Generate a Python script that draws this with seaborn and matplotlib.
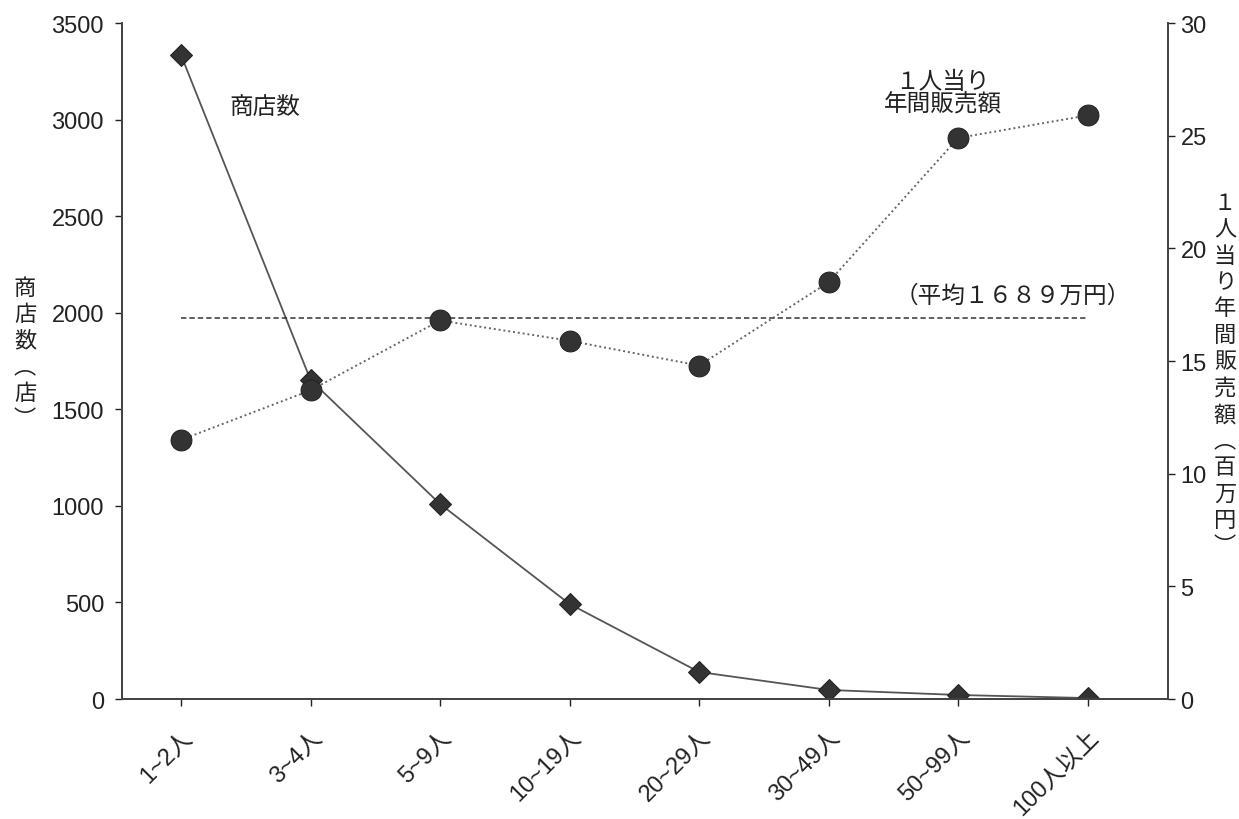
import numpy as np
import pandas as pd
import seaborn as sns
import matplotlib.pyplot as plt

# 従業者規模別 商店数 と 1人当り年間販売額
size_labels = ['1~2人', '3~4人', '5~9人', '10~19人', '20~29人', '30~49人', '50~99人', '100人以上']
store_counts = [3335, 1652, 1010, 492, 140, 47, 21, 5]
sales_per_person = [11.5, 13.7, 16.8, 15.9, 14.8, 18.5, 24.9, 25.9]
avg_sales = 16.89

sns.set_theme(style='white')
plt.rcParams['font.family'] = ['Noto Sans CJK JP', 'DejaVu Sans']
tick_family = ['Liberation Sans', 'Noto Sans CJK JP']

df = pd.DataFrame({'pos': np.arange(len(size_labels)),
                   'size': size_labels,
                   'stores': store_counts,
                   'sales': sales_per_person})

fig = plt.figure(figsize=(12.39, 8.2), dpi=100)
ax = fig.add_axes([0.0985, 0.1463, 0.8442, 0.8244])
ax2 = ax.twinx()

sns.lineplot(x='pos', y='stores', data=df, ax=ax, color='#555555', lw=1.3,
             marker='D', markersize=11, markerfacecolor='#333333',
             markeredgecolor='#222222', zorder=3)
sns.lineplot(x='pos', y='sales', data=df, ax=ax2, color='#666666', lw=1.4,
             linestyle=(0, (1, 1.5)), marker='o', markersize=15,
             markerfacecolor='#333333', markeredgecolor='#222222', zorder=3)
ax2.plot([df['pos'].iloc[0], df['pos'].iloc[-1]], [avg_sales, avg_sales],
         color='#333333', lw=1.1, linestyle=(0, (3.5, 2)))

ax.set_xlim(-0.455, 7.62)
ax.set_ylim(0, 3500)
ax2.set_ylim(0, 30)
ax.set_yticks(np.arange(0, 3501, 500))
ax2.set_yticks(np.arange(0, 31, 5))
ax.set_xticks(df['pos'])
ax.set_xticklabels(size_labels, rotation=45, ha='right', rotation_mode='anchor')

for a in (ax, ax2):
    a.set_xlabel('')
    a.set_ylabel('')
    a.spines['top'].set_visible(False)
    for s in ('left', 'right', 'bottom'):
        a.spines[s].set_color('#444444')
        a.spines[s].set_linewidth(1.3)
    a.tick_params(axis='both', labelsize=17, colors='#222222', length=5, width=1)
    for lab in a.get_xticklabels() + a.get_yticklabels():
        lab.set_family(tick_family)
ax.tick_params(axis='y', left=True, pad=8)
ax.tick_params(axis='x', bottom=True, pad=14)
ax2.tick_params(axis='y', right=True, pad=4)

fs = 17
ax.text(0.65, 3070, '商店数', fontsize=fs, ha='center', va='center', color='#222222')
ax2.text(5.88, 26.9, '１人当り\n年間販売額', fontsize=fs, ha='center', va='center',
         color='#222222', linespacing=1.0)
ax2.text(6.42, 17.9, '（平均１６８９万円）', fontsize=fs, ha='center', va='center',
         color='#222222')

fig.text(25 / 1239, 1 - 354 / 820, '\n'.join('商店数︵店︶'), fontsize=16,
         ha='center', va='center', linespacing=1.17, color='#222222')
fig.text(1225 / 1239, 1 - 375 / 820, '\n'.join('１人当り年間販売額︵百万円︶'), fontsize=16,
         ha='center', va='center', linespacing=1.19, color='#222222')

fig.savefig('out.png', dpi=100)
